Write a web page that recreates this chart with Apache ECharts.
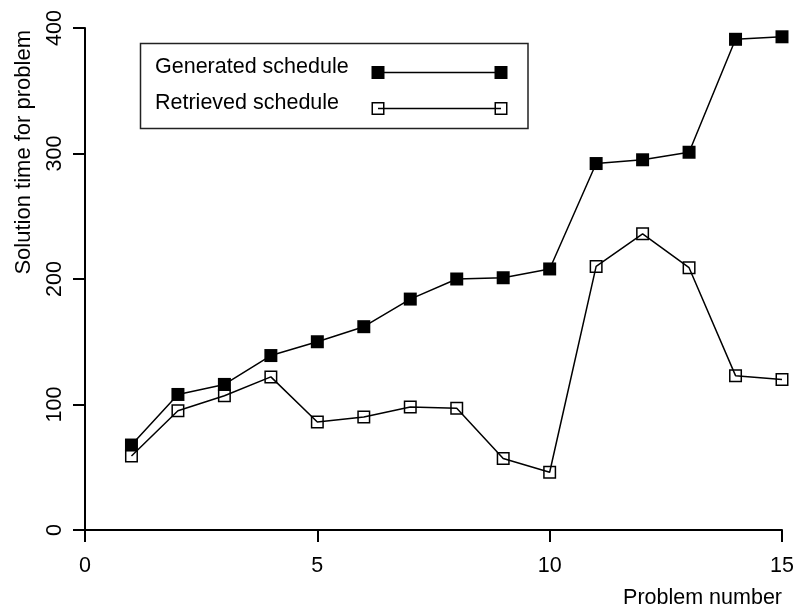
<!DOCTYPE html>
<html>
<head>
<meta charset="utf-8">
<script src="https://cdn.jsdelivr.net/npm/echarts@6/dist/echarts.min.js"></script>
<style>
  html, body { margin: 0; padding: 0; background: #fff; }
  #chart { width: 794px; height: 611px; }
</style>
</head>
<body>
<div id="chart"></div>
<script>
// ---- data ----
const problemNumbers = [1, 2, 3, 4, 5, 6, 7, 8, 9, 10, 11, 12, 13, 14, 15];
const generatedSchedule = [67.7, 108, 116, 139, 150, 162, 184, 200, 201, 208, 292, 295, 301, 391, 393];
const retrievedSchedule = [59, 95, 107, 122, 86, 90, 98, 97, 57, 46, 210, 236, 209, 123, 120];
const xTicks = [0, 5, 10, 15];
const yTicks = [0, 100, 200, 300, 400];
const seriesNames = ['Generated schedule', 'Retrieved schedule'];
const xAxisName = 'Problem number';
const yAxisName = 'Solution time for problem';

const FONT = 'Liberation Sans, Arial, Helvetica, sans-serif';
const FS = 21.5;

const pairs = (ys) => problemNumbers.map((x, i) => [x, ys[i]]);

const chart = echarts.init(document.getElementById('chart'), null, { renderer: 'canvas' });

const legendX1 = 378, legendX2 = 501;
const legendRows = [67, 103];
const legendMarkY = [72.5, 108.5];

chart.setOption({
  animation: false,
  backgroundColor: '#fff',
  grid: { left: 85, right: 12, top: 28, bottom: 81, containLabel: false, outerBoundsMode: 'none' },
  xAxis: {
    type: 'value',
    min: xTicks[0], max: xTicks[xTicks.length - 1], interval: 5,
    name: xAxisName,
    nameLocation: 'end',
    nameGap: 0,
    nameMoveOverlap: false,
    nameTextStyle: { fontFamily: FONT, fontSize: FS, color: '#000', align: 'right', verticalAlign: 'top', padding: [57, 0, 0, 0] },
    axisLine: { show: true, onZero: false, lineStyle: { color: '#000', width: 2 } },
    axisTick: { show: true, inside: false, length: 12, lineStyle: { color: '#000', width: 2 } },
    axisLabel: { fontFamily: FONT, fontSize: FS, color: '#000', margin: 25, showMinLabel: true, showMaxLabel: true },
    splitLine: { show: false }
  },
  yAxis: {
    type: 'value',
    min: yTicks[0], max: yTicks[yTicks.length - 1], interval: 100,
    axisLine: { show: true, onZero: false, lineStyle: { color: '#000', width: 2 } },
    axisTick: { show: true, inside: false, length: 12, lineStyle: { color: '#000', width: 2 } },
    axisLabel: { fontFamily: FONT, fontSize: FS, color: '#000', rotate: 90, margin: 19, showMinLabel: true, showMaxLabel: true },
    splitLine: { show: false }
  },
  series: [
    {
      name: seriesNames[0],
      type: 'line',
      data: pairs(generatedSchedule),
      symbol: 'rect',
      symbolSize: 13,
      showAllSymbol: true,
      lineStyle: { color: '#000', width: 1.5 },
      itemStyle: { color: '#000', borderWidth: 0 },
      z: 2
    },
    {
      name: seriesNames[1],
      type: 'line',
      data: pairs(retrievedSchedule),
      symbol: 'rect',
      symbolSize: 11.5,
      showAllSymbol: true,
      lineStyle: { color: '#000', width: 1.5 },
      itemStyle: { color: 'rgba(255,255,255,0)', borderColor: '#000', borderWidth: 1.5 },
      z: 3
    }
  ],
  graphic: [
    {
      type: 'text', x: 23.5, y: 30, rotation: Math.PI / 2,
      style: { text: yAxisName, font: '22px ' + FONT, fill: '#000', align: 'right', verticalAlign: 'middle' }
    },
    {
      type: 'rect', shape: { x: 140.5, y: 43.5, width: 387.5, height: 85 },
      style: { fill: '#fff', stroke: '#222', lineWidth: 1.5 }
    },
    {
      type: 'text', x: 155, y: legendRows[0],
      style: { text: seriesNames[0], font: FS + 'px ' + FONT, fill: '#000', align: 'left', verticalAlign: 'middle' }
    },
    {
      type: 'text', x: 155, y: legendRows[1],
      style: { text: seriesNames[1], font: FS + 'px ' + FONT, fill: '#000', align: 'left', verticalAlign: 'middle' }
    },
    {
      type: 'line', shape: { x1: legendX1, y1: legendMarkY[0], x2: legendX2, y2: legendMarkY[0] },
      style: { stroke: '#000', lineWidth: 1.5 }
    },
    {
      type: 'line', shape: { x1: legendX1, y1: legendMarkY[1], x2: legendX2, y2: legendMarkY[1] },
      style: { stroke: '#000', lineWidth: 1.5 }
    },
    { type: 'rect', shape: { x: legendX1 - 6.5, y: legendMarkY[0] - 6.5, width: 13, height: 13 }, style: { fill: '#000' } },
    { type: 'rect', shape: { x: legendX2 - 6.5, y: legendMarkY[0] - 6.5, width: 13, height: 13 }, style: { fill: '#000' } },
    { type: 'rect', shape: { x: legendX1 - 5.75, y: legendMarkY[1] - 5.75, width: 11.5, height: 11.5 }, style: { fill: 'rgba(255,255,255,0)', stroke: '#000', lineWidth: 1.5 } },
    { type: 'rect', shape: { x: legendX2 - 5.75, y: legendMarkY[1] - 5.75, width: 11.5, height: 11.5 }, style: { fill: 'rgba(255,255,255,0)', stroke: '#000', lineWidth: 1.5 } }
  ]
});
</script>
</body>
</html>
